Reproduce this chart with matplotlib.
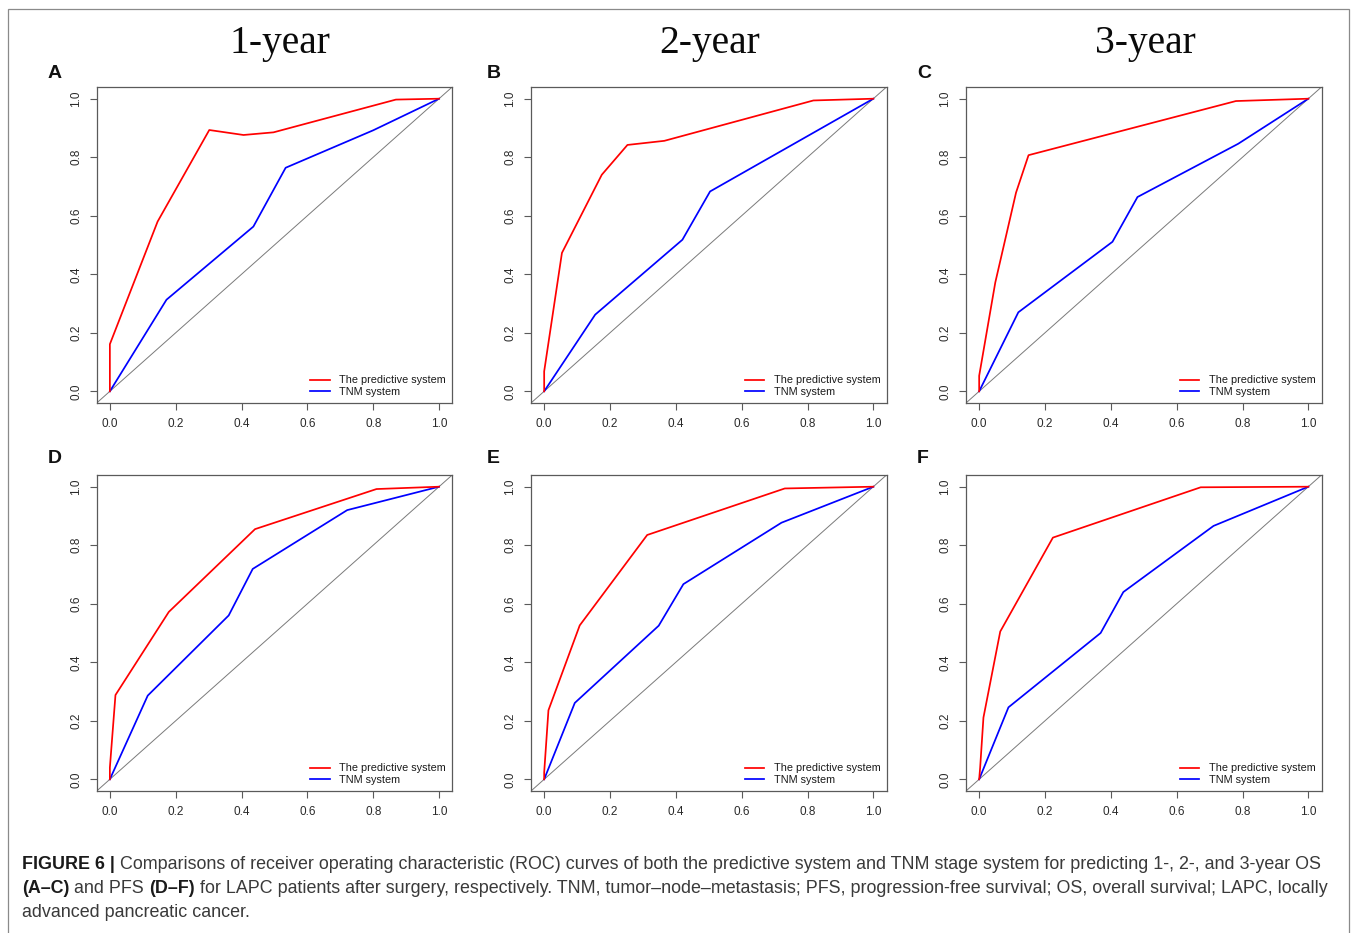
import matplotlib
matplotlib.use("Agg")
import matplotlib.pyplot as plt
from matplotlib.patches import Rectangle

W, H = 1357, 933

# ---- data ----
titles = ["1-year", "2-year", "3-year"]
panel_letters = ["A", "B", "C", "D", "E", "F"]
legend_labels = ["The predictive system", "TNM system"]
tick_vals = [0.0, 0.2, 0.4, 0.6, 0.8, 1.0]
tick_labels = ["0.0", "0.2", "0.4", "0.6", "0.8", "1.0"]

pred_x = {
    "A": [0, 0, 0.145, 0.302, 0.406, 0.497, 0.869, 1.0],
    "B": [0, 0, 0.054, 0.175, 0.253, 0.365, 0.818, 1.0],
    "C": [0, 0, 0.049, 0.112, 0.150, 0.780, 1.0],
    "D": [0, 0, 0.017, 0.179, 0.441, 0.810, 1.0],
    "E": [0, 0, 0.013, 0.108, 0.313, 0.731, 1.0],
    "F": [0, 0.003, 0.013, 0.064, 0.224, 0.673, 1.0],
}
pred_y = {
    "A": [0, 0.161, 0.580, 0.893, 0.876, 0.885, 0.997, 1.0],
    "B": [0, 0.068, 0.473, 0.740, 0.842, 0.856, 0.994, 1.0],
    "C": [0, 0.053, 0.372, 0.679, 0.807, 0.992, 1.0],
    "D": [0, 0.040, 0.288, 0.572, 0.855, 0.992, 1.0],
    "E": [0, 0.023, 0.236, 0.526, 0.835, 0.994, 1.0],
    "F": [0, 0.040, 0.211, 0.505, 0.826, 0.998, 1.0],
}
tnm_x = {
    "A": [0, 0.172, 0.436, 0.534, 0.800, 1.0],
    "B": [0, 0.155, 0.420, 0.504, 1.0],
    "C": [0, 0.119, 0.405, 0.481, 0.787, 1.0],
    "D": [0, 0.115, 0.361, 0.434, 0.721, 1.0],
    "E": [0, 0.093, 0.348, 0.423, 0.721, 1.0],
    "F": [0, 0.089, 0.369, 0.438, 0.712, 1.0],
}
tnm_y = {
    "A": [0, 0.313, 0.563, 0.764, 0.892, 1.0],
    "B": [0, 0.262, 0.518, 0.683, 1.0],
    "C": [0, 0.270, 0.511, 0.664, 0.846, 1.0],
    "D": [0, 0.286, 0.560, 0.719, 0.920, 1.0],
    "E": [0, 0.261, 0.525, 0.667, 0.877, 1.0],
    "F": [0, 0.246, 0.500, 0.640, 0.866, 1.0],
}

caption_lines = [
    [("FIGURE 6 | ", "bold"),
     ("Comparisons of receiver operating characteristic (ROC) curves of both the predictive system and TNM stage system for predicting 1-, 2-, and 3-year OS", "normal")],
    [("(A\u2013C)", "bold"), (" and PFS ", "normal"), ("(D\u2013F)", "bold"),
     (" for LAPC patients after surgery, respectively. TNM, tumor\u2013node\u2013metastasis; PFS, progression-free survival; OS, overall survival; LAPC, locally", "normal")],
    [("advanced pancreatic cancer.", "normal")],
]

# ---- layout ----
fig = plt.figure(figsize=(W / 100, H / 100), dpi=100)
fig.patch.set_facecolor("white")

col_left = [96.7, 531.0, 966.0]
ax_w = 355.5
row_top = [87.0, 475.0]
ax_h = 316.0

SANS = ["Liberation Sans", "DejaVu Sans"]
SERIF = ["Liberation Serif", "DejaVu Serif"]

# outer frame
fig.add_artist(Rectangle((8 / W, -0.02), (1349 - 8) / W, 1 - 9 / H + 0.02,
                         transform=fig.transFigure, fill=False,
                         edgecolor="#8a8a8a", linewidth=0.9))

for i, key in enumerate(panel_letters):
    r, c = divmod(i, 3)
    left = col_left[c]
    top = row_top[r]
    ax = fig.add_axes([left / W, 1 - (top + ax_h) / H, ax_w / W, ax_h / H])
    ax.set_xlim(-0.04, 1.04)
    ax.set_ylim(-0.04, 1.04)
    ax.axline((0, 0), (1, 1), color="#7a7a7a", linewidth=0.7, zorder=1)
    ax.plot(pred_x[key], pred_y[key], color="#ff0000", linewidth=1.25,
            label=legend_labels[0], zorder=3)
    ax.plot(tnm_x[key], tnm_y[key], color="#0000ff", linewidth=1.25,
            label=legend_labels[1], zorder=2)
    for s in ax.spines.values():
        s.set_color("#5a5a5a")
        s.set_linewidth(0.9)
    ax.set_xticks(tick_vals)
    ax.set_xticklabels(tick_labels)
    ax.set_yticks(tick_vals)
    ax.set_yticklabels(tick_labels, rotation=90, va="center")
    ax.tick_params(direction="out", length=5, width=0.8, color="#5a5a5a",
                   labelsize=8.5, labelcolor="#2a2a2a", pad=5.5)
    for lab in ax.get_xticklabels() + ax.get_yticklabels():
        lab.set_family(SANS)
    leg = ax.legend(loc="lower right", frameon=False, prop={"family": SANS, "size": 7.8},
                    handlelength=1.8, handletextpad=0.9, labelspacing=0.15,
                    borderaxespad=0.25, borderpad=0.3)
    for t in leg.get_texts():
        t.set_color("#1a1a1a")
    # panel letter
    lx = [48, 487, 917][c]
    ly = [78, 463][r]
    fig.text(lx / W, 1 - ly / H, key, fontsize=14, fontweight="bold",
             family=SANS, va="baseline", ha="left", color="#111111")

# column titles
title_cx = [280, 710, 1145]
for cx, t in zip(title_cx, titles):
    fig.text(cx / W, 1 - 53 / H, t, fontsize=28.5, family=SERIF,
             ha="center", va="baseline", color="#0a0a0a")

# caption with mixed bold / regular runs
renderer = fig.canvas.get_renderer()


def run_width(txt, weight, size):
    t1 = fig.text(0, 0, txt + "|", fontsize=size, fontweight=weight, family=SANS)
    t2 = fig.text(0, 0, "|", fontsize=size, fontweight=weight, family=SANS)
    w = t1.get_window_extent(renderer).width - t2.get_window_extent(renderer).width
    t1.remove()
    t2.remove()
    return w


cap_size = 12.9
baselines = [869, 893, 917]
for line, yb in zip(caption_lines, baselines):
    x = 22.0
    for txt, weight in line:
        col = "#1a1a1a" if weight == "bold" else "#3a3a3a"
        fig.text(x / W, 1 - yb / H, txt, fontsize=cap_size, fontweight=weight,
                 family=SANS, ha="left", va="baseline", color=col)
        x += run_width(txt, weight, cap_size)

fig.savefig("out.png", dpi=100, facecolor="white")
